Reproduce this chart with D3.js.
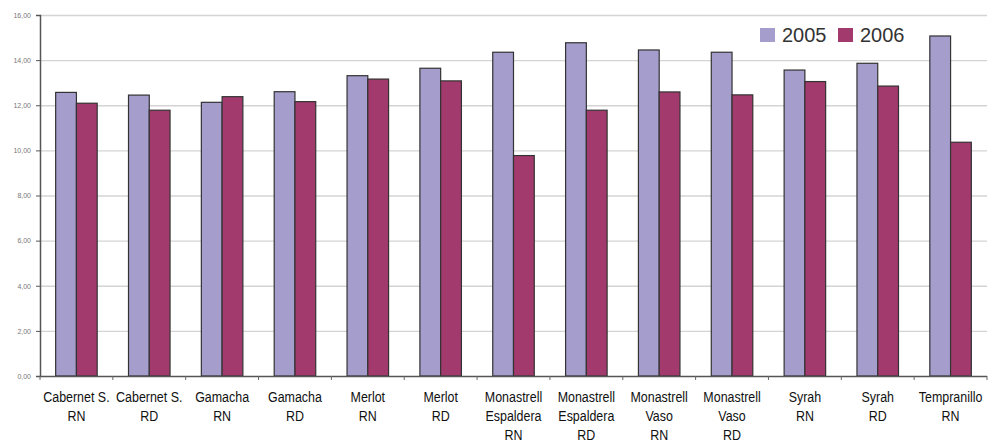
<!DOCTYPE html>
<html>
<head>
<meta charset="utf-8">
<script src="https://cdn.jsdelivr.net/npm/d3@7"></script>
<style>
  html, body { margin: 0; padding: 0; background: #fff; }
  svg { display: block; }
</style>
</head>
<body>
<svg id="chart" width="991" height="442"></svg>
<script>
// Varieties (label lines) and values per year
const categories = [
  ["Cabernet S.", "RN"],
  ["Cabernet S.", "RD"],
  ["Gamacha", "RN"],
  ["Gamacha", "RD"],
  ["Merlot", "RN"],
  ["Merlot", "RD"],
  ["Monastrell", "Espaldera", "RN"],
  ["Monastrell", "Espaldera", "RD"],
  ["Monastrell", "Vaso", "RN"],
  ["Monastrell", "Vaso", "RD"],
  ["Syrah", "RN"],
  ["Syrah", "RD"],
  ["Tempranillo", "RN"]
];
const seriesNames = ["2005", "2006"];
const values2005 = [12.57, 12.45, 12.13, 12.60, 13.31, 13.64, 14.35, 14.77, 14.45, 14.35, 13.56, 13.86, 15.07];
const values2006 = [12.09, 11.78, 12.38, 12.16, 13.16, 13.08, 9.77, 11.78, 12.59, 12.46, 13.05, 12.85, 10.36];
const yTicks = [0, 2, 4, 6, 8, 10, 12, 14, 16];

const colors = { "2005": "#a59dcc", "2006": "#a23a6e" };

const svg = d3.select("#chart");
const margin = { left: 40, top: 15, right: 4, bottom: 66 };
const W = 991, H = 442;
const plotW = W - margin.left - margin.right;
const plotH = H - margin.top - margin.bottom;

const g = svg.append("g").attr("transform", `translate(${margin.left},${margin.top})`);

const x0 = d3.scaleBand()
  .domain(d3.range(categories.length))
  .range([0, plotW])
  .paddingInner(0.43)
  .paddingOuter(0.215);
const x1 = d3.scaleBand().domain(seriesNames).range([0, x0.bandwidth()]);
const y = d3.scaleLinear().domain([0, 16]).range([plotH, 0]);

// Horizontal gridlines
g.append("g").selectAll("line").data(yTicks.filter(t => t > 0)).join("line")
  .attr("x1", 0).attr("x2", plotW)
  .attr("y1", d => y(d) + 0.5).attr("y2", d => y(d) + 0.5)
  .attr("stroke", "#d4d4d4").attr("stroke-width", 1.3);

// Bars
const rows = categories.map((c, i) => ({ i, vals: [values2005[i], values2006[i]] }));
const grp = g.append("g").selectAll("g").data(rows).join("g")
  .attr("transform", d => `translate(${x0(d.i)},0)`);
grp.selectAll("rect").data(d => d.vals.map((v, k) => ({ key: seriesNames[k], v }))).join("rect")
  .attr("x", d => x1(d.key))
  .attr("y", d => y(d.v))
  .attr("width", x1.bandwidth())
  .attr("height", d => y(0) - y(d.v))
  .attr("fill", d => colors[d.key])
  .attr("stroke", "#333")
  .attr("stroke-width", 1.2);

// Y axis
const yAxis = d3.axisLeft(y).tickValues(yTicks).tickSize(4).tickPadding(5)
  .tickFormat(d => d3.format(".2f")(d).replace(".", ","));
const ya = g.append("g").call(yAxis);
ya.select(".domain").attr("stroke", "#555").attr("stroke-width", 1.5);
ya.selectAll(".tick line").attr("stroke", "#555");
ya.selectAll(".tick text").attr("fill", "#777").style("font-family", "Liberation Sans, Arial, sans-serif").style("font-size", "7px");

// X axis with boundary ticks
const xBase = g.append("g").attr("transform", `translate(0,${plotH})`);
xBase.append("line").attr("x1", 0).attr("x2", plotW).attr("y1", 0.5).attr("y2", 0.5)
  .attr("stroke", "#555").attr("stroke-width", 1.5);
const step = x0.step();
xBase.selectAll("line.tk").data(d3.range(categories.length + 1)).join("line")
  .attr("class", "tk")
  .attr("x1", d => x0(0) - x0.paddingOuter() * step + d * step)
  .attr("x2", d => x0(0) - x0.paddingOuter() * step + d * step)
  .attr("y1", 0).attr("y2", 4)
  .attr("stroke", "#666").attr("stroke-width", 1);

// Category labels (horizontally condensed)
const labels = xBase.selectAll("text.cat").data(categories).join("text")
  .attr("class", "cat")
  .attr("text-anchor", "middle")
  .attr("transform", (d, i) => `translate(${x0(i) + x0.bandwidth() / 2},0) scale(0.83,1)`)
  .style("font-family", "'Liberation Sans', Arial, sans-serif")
  .style("font-size", "15px")
  .attr("fill", "#111");
labels.selectAll("tspan").data(d => d).join("tspan")
  .attr("x", 0)
  .attr("y", (d, k) => 26.5 + k * 18.6)
  .text(d => d);

// Legend
const legend = svg.append("g").attr("transform", "translate(760,28)");
seriesNames.forEach((s, k) => {
  const lg = legend.append("g").attr("transform", `translate(${k * 78},0)`);
  lg.append("rect").attr("x", 0).attr("y", 0).attr("width", 15).attr("height", 14).attr("fill", colors[s]);
  lg.append("text").attr("x", 22).attr("y", 14)
    .style("font-family", "Liberation Sans, Arial, sans-serif").style("font-size", "20px")
    .attr("fill", "#333").text(s);
});
</script>
</body>
</html>
